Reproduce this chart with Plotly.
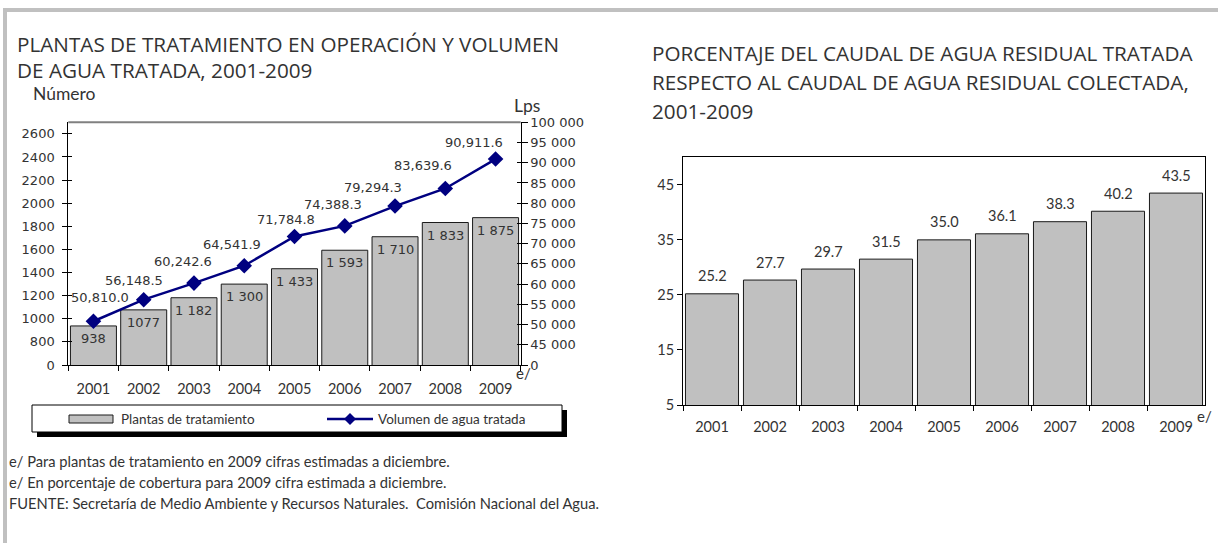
import plotly.graph_objects as go

W, H = 1218, 543

# ---------------- data ----------------
years = ["2001", "2002", "2003", "2004", "2005", "2006", "2007", "2008", "2009"]
plantas = [938, 1077, 1182, 1300, 1433, 1593, 1710, 1833, 1875]
plantas_labels = ["938", "1077", "1 182", "1 300", "1 433", "1 593", "1 710", "1 833", "1 875"]
volumen = [50810.0, 56148.5, 60242.6, 64541.9, 71784.8, 74388.3, 79294.3, 83639.6, 90911.6]
porcentaje = [25.2, 27.7, 29.7, 31.5, 35.0, 36.1, 38.3, 40.2, 43.5]

left_tickvals = [600, 800, 1000, 1200, 1400, 1600, 1800, 2000, 2200, 2400, 2600]
left_ticktext = ["0", "800", "1000", "1200", "1400", "1600", "1800", "2000", "2200", "2400", "2600"]
right_tickvals = [40000, 45000, 50000, 55000, 60000, 65000, 70000, 75000, 80000, 85000, 90000, 95000, 100000]
right_ticktext = ["0", "45 000", "50 000", "55 000", "60 000", "65 000", "70 000", "75 000",
                  "80 000", "85 000", "90 000", "95 000", "100 000"]
pct_tickvals = [5, 15, 25, 35, 45]

# manual nudges of the line value labels (pixels), as placed in the original
vol_label_dx = [7, -10, -11, -12, -9, -12, -22, -22, -22]
vol_label_dy = [24, 19, 22, 21, 17, 21, 19, 23, 17]

# ---------------- style ----------------
TXT = "#333333"
HEAD_FONT = "Open Sans"
TITLE_FONT = "Lato"
NUM_FONT = "DejaVu Sans"
BAR_FILL = "#c0c0c0"
NAVY = "#000080"


def X(px):
    return px / W


def Y(py):
    return 1 - py / H


fig = go.Figure()

fig.add_trace(go.Bar(
    x=years, y=plantas, xaxis="x", yaxis="y",
    marker=dict(color=BAR_FILL, line=dict(color="#1a1a1a", width=1)),
    hoverinfo="skip", showlegend=False,
))
fig.add_trace(go.Scatter(
    x=years, y=volumen, xaxis="x", yaxis="y2", mode="lines+markers",
    line=dict(color=NAVY, width=2.5),
    marker=dict(symbol="diamond", size=12, color=NAVY),
    hoverinfo="skip", showlegend=False,
))
fig.add_trace(go.Bar(
    x=years, y=porcentaje, xaxis="x2", yaxis="y4",
    marker=dict(color=BAR_FILL, line=dict(color="#1a1a1a", width=1)),
    hoverinfo="skip", showlegend=False,
))
# tick-only overlay axes (to make the ticks cross the axis line)
fig.add_trace(go.Scatter(x=[years[0]], y=[None], xaxis="x", yaxis="y3", showlegend=False, hoverinfo="skip"))
fig.add_trace(go.Scatter(x=[years[0]], y=[None], xaxis="x", yaxis="y5", showlegend=False, hoverinfo="skip"))

annotations = []
# bar labels (left) -- category positions given by index on the category axis
for i, (v, t) in enumerate(zip(plantas, plantas_labels)):
    annotations.append(dict(x=i, y=v, xref="x", yref="y", text=t, showarrow=False,
                            yshift=-12.5, yanchor="middle",
                            font=dict(family=NUM_FONT, size=13, color=TXT)))
# line labels
for i, (v, dx, dy) in enumerate(zip(volumen, vol_label_dx, vol_label_dy)):
    annotations.append(dict(x=i, y=v, xref="x", yref="y2", text=f"{v:,.1f}", showarrow=False,
                            xshift=dx, yshift=dy, yanchor="middle",
                            font=dict(family=NUM_FONT, size=13, color=TXT)))
# right bar labels
for i, v in enumerate(porcentaje):
    annotations.append(dict(x=i, y=v, xref="x2", yref="y4", text=f"{v:.1f}", showarrow=False,
                            yshift=18, yanchor="middle",
                            font=dict(family=TITLE_FONT, size=14.5, color=TXT)))


def txt(x, y, s, size, anchor="left", family=TITLE_FONT):
    annotations.append(dict(x=X(x), y=Y(y), xref="paper", yref="paper", text=s, showarrow=False,
                            xanchor=anchor, yanchor="middle",
                            font=dict(family=family, size=size, color=TXT)))


txt(15, 44, "PLANTAS DE TRATAMIENTO EN OPERACIÓN Y VOLUMEN", 20.7, family=HEAD_FONT)
txt(15, 70, "DE AGUA TRATADA, 2001-2009", 20.7, family=HEAD_FONT)
txt(31, 93.5, "Número", 17.5)
txt(527, 106, "Lps", 17.5, anchor="center")
txt(650, 52.5, "PORCENTAJE DEL CAUDAL DE AGUA RESIDUAL TRATADA", 20.7, family=HEAD_FONT)
txt(650, 81.5, "RESPECTO AL CAUDAL DE AGUA RESIDUAL COLECTADA,", 20.7, family=HEAD_FONT)
txt(650, 111, "2001-2009", 20.7, family=HEAD_FONT)
txt(523, 373, "e/", 15, anchor="center")
txt(1204, 416, "e/", 15, anchor="center")
txt(7, 461, "e/ Para plantas de tratamiento en 2009 cifras estimadas a diciembre.", 14.7)
txt(7, 482, "e/ En porcentaje de cobertura para 2009 cifra estimada a diciembre.", 14.7)
txt(7, 503, "FUENTE: Secretaría de Medio Ambiente y Recursos Naturales.  Comisión Nacional del Agua.", 14.7)
txt(119, 419, "Plantas de tratamiento", 13.5)
txt(376, 419, "Volumen de agua tratada", 13.5)

shapes = []


def rect(x0, y0, x1, y1, fill, line_color=None, lw=0):
    shapes.append(dict(type="rect", xref="paper", yref="paper",
                       x0=X(x0), x1=X(x1), y0=Y(y1), y1=Y(y0),
                       fillcolor=fill, line=dict(color=line_color or fill, width=lw), layer="above"))


# page frame (grey)
rect(3, 8, W + 5, 12, "#c0c0c0")
rect(3, 8, 7, H + 5, "#c0c0c0")
# left chart top line (grey)
shapes.append(dict(type="line", xref="paper", yref="paper", x0=X(68.3), x1=X(520.7),
                   y0=Y(122.3), y1=Y(122.3), line=dict(color="#808080", width=2)))
# legend box with shadow
rect(37, 410, 567, 437, "#000000")
rect(32, 405, 562, 432, "#ffffff", "#000000", 1)
rect(69, 415, 113, 423, BAR_FILL, "#1a1a1a", 1)
shapes.append(dict(type="line", xref="paper", yref="paper", x0=X(327), x1=X(373),
                   y0=Y(419), y1=Y(419), line=dict(color=NAVY, width=2.5)))
cx, cy, r = 350, 419, 6
shapes.append(dict(type="path", xref="paper", yref="paper",
                   path=f"M {X(cx)},{Y(cy - r)} L {X(cx + r)},{Y(cy)} L {X(cx)},{Y(cy + r)} L {X(cx - r)},{Y(cy)} Z",
                   fillcolor=NAVY, line=dict(color=NAVY, width=0)))

axis_common = dict(showgrid=False, zeroline=False, linecolor="#000000", linewidth=1,
                   tickcolor="#000000", tickwidth=1, automargin=False)

fig.update_layout(
    width=W, height=H, margin=dict(l=0, r=0, t=0, b=0, autoexpand=False),
    paper_bgcolor="white", plot_bgcolor="white",
    bargap=0.085,
    showlegend=False,
    xaxis=dict(domain=[X(68.3), X(520.7)], anchor="y", type="category", range=[-0.5, 8.5],
               ticks="outside", ticklen=5, tickson="boundaries", showline=True,
               ticklabelstandoff=11, tickangle=0,
               tickfont=dict(family=TITLE_FONT, size=14.5, color=TXT), **axis_common),
    yaxis=dict(domain=[Y(365), Y(122.3)], range=[600, 2700], tickvals=left_tickvals,
               ticktext=left_ticktext, ticks="outside", ticklen=5, showline=True,
               ticklabelstandoff=5,
               tickfont=dict(family=NUM_FONT, size=13, color=TXT), **axis_common),
    yaxis3=dict(overlaying="y", range=[600, 2700], tickvals=left_tickvals, ticks="inside",
                ticklen=3.5, showticklabels=False, showline=False, **axis_common),
    yaxis2=dict(overlaying="y", side="right", range=[40000, 100000], tickvals=right_tickvals,
                ticktext=right_ticktext, ticks="outside", ticklen=6, showline=True,
                tickfont=dict(family=NUM_FONT, size=13, color=TXT), **axis_common),
    yaxis5=dict(overlaying="y", side="right", range=[40000, 100000], tickvals=right_tickvals,
                ticks="inside", ticklen=3.5, showticklabels=False, showline=False, **axis_common),
    xaxis2=dict(domain=[X(683), X(1205)], anchor="y4", type="category", range=[-0.5, 8.5],
                ticks="outside", ticklen=5, tickson="boundaries", showline=True, mirror=True,
                ticklabelstandoff=9, tickangle=0,
                tickfont=dict(family=TITLE_FONT, size=14.5, color=TXT), **axis_common),
    yaxis4=dict(domain=[Y(405), Y(157.3)], anchor="x2", range=[5, 50], tickvals=pct_tickvals,
                ticks="outside", ticklen=5, showline=True, mirror=True,
                tickfont=dict(family=TITLE_FONT, size=14.5, color=TXT), **axis_common),
    annotations=annotations,
    shapes=shapes,
)

fig.write_html("out.html", config={"displayModeBar": False},
               post_script="document.body.style.margin='0';")
